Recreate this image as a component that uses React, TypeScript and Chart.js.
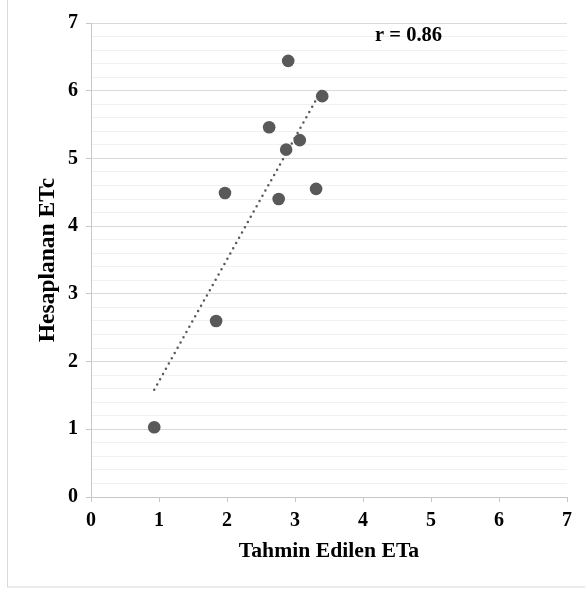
import React, { useEffect, useRef } from "react";
import { Chart, registerables } from "chart.js";

Chart.register(...registerables);

// Data
const etaValues = [0.93, 1.84, 1.97, 2.62, 2.76, 2.87, 2.9, 3.07, 3.31, 3.4];
const etcValues = [1.03, 2.6, 4.49, 5.46, 4.4, 5.13, 6.44, 5.27, 4.55, 5.92];
const xTitle = "Tahmin Edilen ETa";
const yTitle = "Hesaplanan ETc";
const annotationText = "r = 0.86";
const annotationPos = [4.67, 6.81];
const axisMin = 0;
const axisMax = 7;

const FONT = "'Liberation Serif', 'Times New Roman', serif";
const DARK = "#595959";

function regression(xs: number[], ys: number[]) {
  const n = xs.length;
  const mx = xs.reduce((a, b) => a + b, 0) / n;
  const my = ys.reduce((a, b) => a + b, 0) / n;
  let sxy = 0;
  let sxx = 0;
  for (let i = 0; i < n; i++) {
    sxy += (xs[i] - mx) * (ys[i] - my);
    sxx += (xs[i] - mx) * (xs[i] - mx);
  }
  const b = sxy / sxx;
  const a = my - b * mx;
  return { a, b };
}

const isInt = (v: number) => Math.abs(v - Math.round(v)) < 1e-6;

export default function App() {
  const ref = useRef<HTMLCanvasElement | null>(null);

  useEffect(() => {
    if (!ref.current) return;
    const points = etaValues.map((x, i) => ({ x, y: etcValues[i] }));
    const { a, b } = regression(etaValues, etcValues);
    const xMin = Math.min(...etaValues);
    const xMax = Math.max(...etaValues);
    const trend = [
      { x: xMin, y: a + b * xMin },
      { x: xMax, y: a + b * xMax },
    ];

    const framePlugin = {
      id: "frame",
      beforeDraw(chart: any) {
        const ctx = chart.ctx;
        ctx.save();
        ctx.fillStyle = "#ffffff";
        ctx.fillRect(0, 0, chart.width, chart.height);
        ctx.strokeStyle = "#d9d9d9";
        ctx.lineWidth = 1;
        ctx.strokeRect(7.5, -1, 582, 588);
        ctx.restore();
      },
      afterDatasetsDraw(chart: any) {
        const ctx = chart.ctx;
        const xs = chart.scales.x;
        const ys = chart.scales.y;
        ctx.save();
        ctx.font = `bold 20.5px ${FONT}`;
        ctx.fillStyle = "#000000";
        ctx.textAlign = "center";
        ctx.textBaseline = "middle";
        ctx.fillText(
          annotationText,
          xs.getPixelForValue(annotationPos[0]),
          ys.getPixelForValue(annotationPos[1])
        );
        ctx.restore();
      },
    };

    const chart = new Chart(ref.current, {
      type: "scatter",
      data: {
        datasets: [
          {
            label: "points",
            data: points,
            backgroundColor: DARK,
            borderColor: DARK,
            borderWidth: 0,
            pointRadius: 6.3,
            pointHoverRadius: 6.3,
          } as any,
          {
            label: "trend",
            type: "line",
            data: trend,
            borderColor: DARK,
            borderWidth: 2.5,
            borderDash: [0, 6],
            borderCapStyle: "round",
            pointRadius: 0,
            fill: false,
          } as any,
        ],
      },
      options: {
        animation: false,
        responsive: false,
        maintainAspectRatio: false,
        layout: { padding: { top: 23, right: 18, left: 0, bottom: 0 } },
        plugins: {
          legend: { display: false },
          tooltip: { enabled: false },
        },
        scales: {
          x: {
            type: "linear",
            min: axisMin,
            max: axisMax,
            afterFit(scale: any) {
              scale.height = 92;
            },
            ticks: {
              stepSize: 1,
              padding: 7,
              color: "#000000",
              font: { family: FONT, size: 20, weight: "bold" },
            },
            grid: {
              drawOnChartArea: false,
              drawTicks: true,
              tickLength: 5,
              tickColor: "#c8c8c8",
            },
            border: { display: true, color: "#c8c8c8", width: 1 },
            title: {
              display: true,
              text: xTitle,
              color: "#000000",
              font: { family: FONT, size: 21.7, weight: "bold" },
              padding: { top: 0, bottom: 25 },
            },
          },
          y: {
            type: "linear",
            min: axisMin,
            max: axisMax,
            afterFit(scale: any) {
              scale.width = 91;
            },
            ticks: {
              stepSize: 0.2,
              autoSkip: false,
              padding: 8,
              color: "#000000",
              font: { family: FONT, size: 20, weight: "bold" },
              callback: (v: any) => (isInt(Number(v)) ? String(Math.round(Number(v))) : ""),
            },
            grid: {
              drawTicks: true,
              tickLength: 5,
              color: (c: any) => (isInt(c.tick.value) ? "#d9d9d9" : "#f0f0f0"),
              tickColor: (c: any) => (isInt(c.tick.value) ? "#c8c8c8" : "rgba(0,0,0,0)"),
            },
            border: { display: true, color: "#c8c8c8", width: 1 },
            title: {
              display: true,
              text: yTitle,
              color: "#000000",
              font: { family: FONT, size: 23.5, weight: "bold" },
              padding: { top: 34, bottom: 0 },
            },
          },
        },
      } as any,
      plugins: [framePlugin],
    });
    return () => chart.destroy();
  }, []);

  return (
    <div style={{ position: "absolute", left: 0, top: 0, width: 585, height: 589 }}>
      <canvas ref={ref} width={585} height={589} style={{ display: "block", width: 585, height: 589 }} />
    </div>
  );
}
